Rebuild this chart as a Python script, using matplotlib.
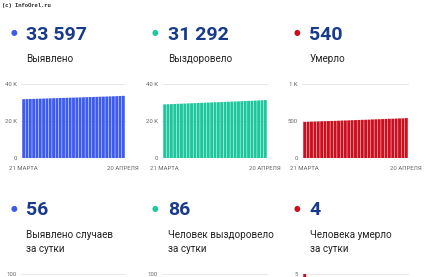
import matplotlib
matplotlib.use("Agg")
import matplotlib.pyplot as plt

# cumulative totals, 21 March .. 20 April (31 days)
detected = [31790, 31850, 31905, 31965, 32020, 32080, 32135, 32195, 32250, 32310,
            32365, 32425, 32480, 32540, 32600, 32655, 32715, 32770, 32830, 32885,
            32945, 33005, 33060, 33120, 33180, 33240, 33300, 33360, 33430, 33541, 33597]
recovered = [29000, 29070, 29140, 29215, 29290, 29360, 29435, 29510, 29585, 29660,
             29735, 29810, 29885, 29960, 30035, 30110, 30185, 30260, 30335, 30410,
             30485, 30560, 30640, 30715, 30790, 30870, 30950, 31030, 31120, 31206, 31292]
died = [487, 489, 491, 492, 494, 496, 497, 499, 501, 502,
        504, 506, 507, 509, 511, 512, 514, 516, 517, 519,
        521, 523, 524, 526, 528, 530, 531, 533, 535, 536, 540]

# daily values (only the top of the charts is visible in the picture)
detected_daily = [60, 62, 55, 58, 60, 57, 59, 61, 56, 58, 60, 57, 59, 58, 60, 55,
                  58, 60, 57, 59, 58, 60, 56, 59, 58, 60, 57, 59, 58, 60, 56]
recovered_daily = [70, 72, 75, 74, 73, 76, 75, 74, 75, 76, 74, 75, 73, 76, 75, 74,
                   75, 76, 75, 74, 75, 76, 78, 75, 77, 78, 80, 82, 86, 86, 86]
died_daily = [5, 2, 2, 1, 2, 2, 1, 2, 2, 1, 2, 2, 1, 2, 2, 1,
              2, 2, 1, 2, 2, 2, 1, 2, 2, 2, 1, 2, 2, 1, 4]

date_labels = ["21 МАРТА", "20 АПРЕЛЯ"]

totals = ["33 597", "31 292", "540"]
total_titles = ["Выявлено", "Выздоровело", "Умерло"]
daily_totals = ["56", "86", "4"]
daily_titles = ["Выявлено случаев\nза сутки", "Человек выздоровело\nза сутки",
                "Человека умерло\nза сутки"]

colors = ["#3d5af1", "#1dc79e", "#cc0e1e"]
navy = "#183a8c"

W, H = 430, 277
fig = plt.figure(figsize=(W / 100, H / 100), dpi=100)
plt.rcParams['font.family'] = ['Roboto', 'DejaVu Sans']


def fx(x):
    return x / W


def fy(y):
    return 1 - y / H


def setup_axes(ax, top, ticks, labels, show_x):
    for s in ax.spines.values():
        s.set_visible(False)
    ax.set_ylim(0, top)
    ax.set_yticks(ticks)
    ax.set_yticklabels(labels)
    ax.set_xlim(-0.8, 30.8)
    if show_x:
        ax.set_xticks([0, 30])
        ax.set_xticklabels(date_labels)
    else:
        ax.set_xticks([])
    ax.tick_params(length=0, labelsize=4.3, labelcolor="#666666")
    ax.tick_params(axis='y', pad=3)
    ax.tick_params(axis='x', pad=5.5)
    ax.yaxis.grid(True, color="#e4e4e4", lw=0.6)
    ax.set_axisbelow(True)


col_x = [21, 162, 302]
col_w = [105, 106, 107]
dot_x = [13.5, 154.5, 296.5]
text_x = [26, 168, 309.5]

top_series = [detected, recovered, died]
top_lim = [40000, 40000, 1000]
top_ticks = [[0, 20000, 40000], [0, 20000, 40000], [0, 500, 1000]]
top_tlabels = [["0", "20 K", "40 K"], ["0", "20 K", "40 K"], ["0", "500", "1 K"]]

bot_series = [detected_daily, recovered_daily, died_daily]
bot_lim = [100, 100, 5]
bot_ticks = [[0, 50, 100], [0, 50, 100], [0, 5]]
bot_tlabels = [["0", "50", "100"], ["0", "50", "100"], ["0", "5"]]

days = list(range(31))

for i in range(3):
    # top row
    fig.text(fx(dot_x[i]), fy(32.3), "\u25cf", color=colors[i], fontsize=5.5,
             ha="center", va="center", family="DejaVu Sans")
    fig.text(fx(text_x[i]), fy(40.5), totals[i], color=navy, fontsize=14,
             fontweight="bold", ha="left", va="baseline")
    fig.text(fx(text_x[i]), fy(61.7), total_titles[i], color="#222222",
             fontsize=7.1, ha="left", va="baseline")
    ax = fig.add_axes([fx(col_x[i]), fy(158), col_w[i] / W, 74 / H])
    ax.bar(days, top_series[i], width=0.86, color=colors[i], linewidth=0, snap=False)
    setup_axes(ax, top_lim[i], top_ticks[i], top_tlabels[i], True)

    # bottom row
    fig.text(fx(dot_x[i]), fy(208), "\u25cf", color=colors[i], fontsize=5.5,
             ha="center", va="center", family="DejaVu Sans")
    fig.text(fx(text_x[i]), fy(215.3), daily_totals[i], color=navy, fontsize=14,
             fontweight="bold", ha="left", va="baseline")
    fig.text(fx(text_x[i]), fy(252.3), daily_titles[i], color="#222222",
             fontsize=7.1, ha="left", va="baseline", linespacing=1.6)
    ax2 = fig.add_axes([fx(col_x[i]), fy(348), col_w[i] / W, 74 / H])
    ax2.bar(days, bot_series[i], width=0.86, color=colors[i], linewidth=0, snap=False)
    setup_axes(ax2, bot_lim[i], bot_ticks[i], bot_tlabels[i], False)

fig.text(fx(2.5), fy(6), "(c) InfoOrel.ru", fontsize=4, family="Liberation Mono",
         fontweight="bold", color="#222222", ha="left", va="center")

fig.savefig("out.png", dpi=100)
